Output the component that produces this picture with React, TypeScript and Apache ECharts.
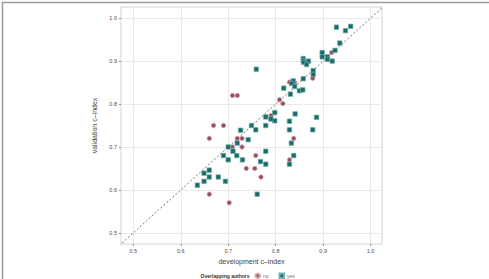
import React, { useEffect, useRef } from "react";
import * as echarts from "echarts";

const tickValues = [0.5, 0.6, 0.7, 0.8, 0.9, 1.0];

const devYes = [0.928, 0.958, 0.947, 0.935, 0.925, 0.898, 0.898, 0.909, 0.909, 0.919, 0.858, 0.858, 0.859, 0.869, 0.865, 0.879, 0.879, 0.858, 0.837, 0.834, 0.84, 0.817, 0.831, 0.85, 0.857, 0.798, 0.798, 0.779, 0.79, 0.779, 0.749, 0.758, 0.726, 0.742, 0.719, 0.7, 0.71, 0.718, 0.69, 0.73, 0.7, 0.779, 0.768, 0.779, 0.66, 0.649, 0.66, 0.679, 0.649, 0.694, 0.635, 0.761, 0.759, 0.829, 0.829, 0.833, 0.841, 0.838, 0.829, 0.886, 0.878];
const valYes = [0.979, 0.981, 0.971, 0.942, 0.925, 0.92, 0.91, 0.91, 0.904, 0.9, 0.906, 0.901, 0.897, 0.9, 0.892, 0.878, 0.869, 0.859, 0.854, 0.848, 0.841, 0.837, 0.823, 0.831, 0.833, 0.78, 0.761, 0.77, 0.765, 0.75, 0.75, 0.74, 0.739, 0.717, 0.709, 0.7, 0.69, 0.68, 0.68, 0.67, 0.67, 0.69, 0.666, 0.66, 0.646, 0.639, 0.63, 0.63, 0.62, 0.62, 0.611, 0.59, 0.881, 0.76, 0.74, 0.709, 0.777, 0.68, 0.66, 0.769, 0.74];

const devNo = [0.918, 0.878, 0.829, 0.84, 0.808, 0.815, 0.79, 0.709, 0.719, 0.669, 0.69, 0.66, 0.719, 0.729, 0.709, 0.729, 0.758, 0.738, 0.756, 0.769, 0.66, 0.702, 0.838, 0.829];
const valNo = [0.92, 0.86, 0.851, 0.85, 0.81, 0.801, 0.773, 0.82, 0.82, 0.75, 0.75, 0.72, 0.72, 0.72, 0.7, 0.7, 0.68, 0.65, 0.65, 0.63, 0.59, 0.57, 0.72, 0.67];

const identityLine = [0.47, 1.03];

export default function App() {
  const ref = useRef<HTMLDivElement>(null);
  useEffect(() => {
    if (!ref.current) return;
    const chart = echarts.init(ref.current, null, { renderer: "svg" });
    const font = "'Liberation Sans', Arial, sans-serif";
    const axisCommon = {
      type: "value" as const,
      axisLine: { show: false },
      axisTick: { show: true, length: 2, lineStyle: { color: "#666", width: 0.7 }, customValues: tickValues },
      axisLabel: {
        customValues: tickValues,
        fontSize: 5.5,
        color: "#4d4d4d",
        fontFamily: font,
        formatter: (v: number) => v.toFixed(1),
      },
      splitLine: { show: true, lineStyle: { color: "#e4e4e4", width: 0.8 } },
      nameTextStyle: { fontSize: 7, color: "#444", fontFamily: font },
    };
    chart.setOption({
      animation: false,
      backgroundColor: "#fff",
      grid: { left: 121, right: 107, top: 7, bottom: 35, show: true, borderColor: "#d4d4d4", borderWidth: 1, backgroundColor: "transparent" },
      xAxis: {
        ...axisCommon,
        min: 0.474,
        max: 1.024,
        name: "development c–index",
        nameLocation: "middle",
        nameGap: 11,
        axisLabel: { ...axisCommon.axisLabel, margin: 3.5 },
      },
      yAxis: {
        ...axisCommon,
        min: 0.474,
        max: 1.026,
        name: "validation c–index",
        nameLocation: "middle",
        nameGap: 14.5,
        axisLabel: { ...axisCommon.axisLabel, margin: 4 },
      },
      legend: {
        left: 254.5,
        top: 272.5,
        padding: 0,
        itemWidth: 4.5,
        itemHeight: 4.5,
        itemGap: 10,
        textStyle: { fontSize: 5, color: "#777", fontFamily: font, padding: [0, 0, 0, -2] },
        data: [
          { name: "no", icon: "circle" },
          { name: "yes", icon: "rect" },
        ],
      },
      graphic: [
        {
          type: "text",
          x: 249.5,
          y: 275.5,
          style: { text: "Overlapping authors", fill: "#333", font: `bold 5px ${font}`, textAlign: "right", textVerticalAlign: "middle" },
        },
        {
          type: "rect",
          left: 0,
          top: 0,
          shape: { x: 0.5, y: 0.5, width: 488, height: 278 },
          style: { fill: "none", stroke: "#9a9a9a", lineWidth: 1.5 },
          silent: true,
        },
      ],
      series: [
        {
          type: "line",
          data: identityLine.map((v) => [v, v]),
          showSymbol: false,
          symbol: "none",
          clip: true,
          lineStyle: { color: "#555", width: 0.8, type: [2, 2] },
          silent: true,
          z: 1,
        },
        {
          name: "no",
          type: "scatter",
          symbol: "circle",
          symbolSize: 4.5,
          data: devNo.map((d, i) => [d, valNo[i]]),
          itemStyle: { color: "#9a4f63", borderColor: "#d3a7b2", borderWidth: 0.7, opacity: 1 },
          z: 3,
        },
        {
          name: "yes",
          type: "scatter",
          symbol: "rect",
          symbolSize: 4.5,
          data: devYes.map((d, i) => [d, valYes[i]]),
          itemStyle: { color: "#1c6966", borderColor: "#6fb1ad", borderWidth: 0.7, opacity: 1 },
          z: 3,
        },
      ],
    });
    return () => chart.dispose();
  }, []);
  return <div ref={ref} style={{ position: "fixed", left: 0, top: 0, width: 489, height: 279 }} />;
}
